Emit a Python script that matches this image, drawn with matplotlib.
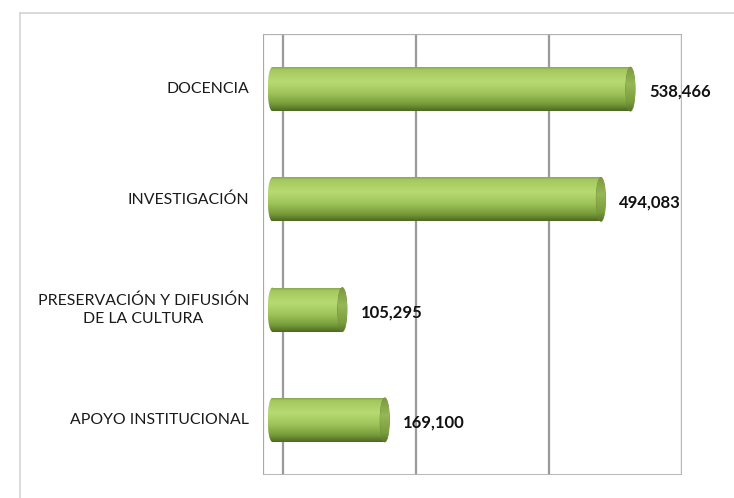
import numpy as np
import matplotlib
matplotlib.use("Agg")
import matplotlib.pyplot as plt
from matplotlib.colors import LinearSegmentedColormap
from matplotlib.patches import Ellipse
from matplotlib.lines import Line2D
import matplotlib.transforms as mtransforms

categorias = ["DOCENCIA", "INVESTIGACIÓN", "PRESERVACIÓN Y DIFUSIÓN\nDE LA CULTURA", "APOYO INSTITUCIONAL"]
valores = [538466, 494083, 105295, 169100]
etiquetas = ["538,466", "494,083", "105,295", "169,100"]
ticks_x = [0, 200000, 400000, 600000]

plt.rcParams['font.family'] = ['Lato', 'DejaVu Sans']

fig = plt.figure(figsize=(7.34, 4.98), dpi=100)
W, H = 734, 498
ax = fig.add_axes([263 / W, 1 - 475 / H, (682 - 263) / W, (475 - 34) / H])

# borde exterior del grafico
fig.add_artist(Line2D([20 / W, 20 / W], [0, 1 - 13 / H], color="#d4d4d4", lw=1.2))
fig.add_artist(Line2D([20 / W, 1], [1 - 13 / H, 1 - 13 / H], color="#d4d4d4", lw=1.2))

xmin, xmax = -30000, 600000
desp = -16000   # desplazamiento del plano frontal (efecto 3D)
alto = 0.4
ancho_tapa = 14000

cuerpo = LinearSegmentedColormap.from_list("cuerpo", [
    (0.0, "#7f9e44"), (0.08, "#a4c75e"), (0.35, "#b7da73"),
    (0.6, "#a0c55b"), (0.85, "#769a39"), (1.0, "#4d6822")])
tapa = LinearSegmentedColormap.from_list("tapa", [
    (0.0, "#7a983e"), (0.4, "#95b755"), (0.8, "#7a9c3c"), (1.0, "#56722a")])
grad = np.linspace(0, 1, 256).reshape(-1, 1)

y = np.arange(len(categorias))

# rejilla y marco
for t in ticks_x:
    ax.axvline(t, color="#9a9a9a", lw=1.6, zorder=1)
ax.axvline(xmin, color="#a8a8a8", lw=1.6, zorder=1)
ax.axvline(xmax, color="#b8b8b8", lw=2.2, zorder=1)
ax.axhline(-0.5, color="#b0b0b0", lw=1.6, zorder=1)
ax.axhline(3.5, color="#b0b0b0", lw=2.0, zorder=1)

barras = ax.barh(y, valores, left=desp, height=alto, color="none", zorder=2)
for b, yi in zip(barras, y):
    x0 = b.get_x()
    x1 = x0 + b.get_width()
    # extremo izquierdo redondeado
    e_izq = Ellipse((x0, yi), ancho_tapa, alto, facecolor="none", edgecolor="none")
    ax.add_patch(e_izq)
    im0 = ax.imshow(grad, cmap=cuerpo, aspect="auto", origin="upper",
                    extent=[x0 - ancho_tapa / 2, x0 + 1, yi + alto / 2, yi - alto / 2], zorder=2)
    im0.set_clip_path(e_izq)
    im = ax.imshow(grad, cmap=cuerpo, aspect="auto", origin="upper",
                   extent=[x0, x1, yi + alto / 2, yi - alto / 2], zorder=2)
    im.set_clip_path(b)
    e_der = Ellipse((x1, yi), ancho_tapa, alto, facecolor="none",
                    edgecolor="#6f8c3a", lw=0.6, zorder=3)
    ax.add_patch(e_der)
    im2 = ax.imshow(grad, cmap=tapa, aspect="auto", origin="upper",
                    extent=[x1 - ancho_tapa / 2, x1 + ancho_tapa / 2, yi + alto / 2, yi - alto / 2], zorder=3)
    im2.set_clip_path(e_der)
    ax.annotate(etiquetas[int(yi)], xy=(x1 + ancho_tapa / 2, yi), xytext=(10, -2),
                textcoords="offset points", ha="left", va="center",
                fontsize=12, fontweight="bold", color="#111111", zorder=4,
                annotation_clip=False)

ax.set_xlim(xmin, xmax)
ax.set_ylim(3.5, -0.5)
ax.set_xticks([])
ax.set_yticks([])
for s in ax.spines.values():
    s.set_visible(False)

trans = mtransforms.blended_transform_factory(fig.transFigure, ax.transData)
for yi, cat in zip(y, categorias):
    ax.text(249 / W, yi, cat, transform=trans,
            ha="right", va="center", multialignment="center", fontsize=11.4,
            color="#1a1a1a", linespacing=1.3)

fig.savefig("out.png", dpi=100)
